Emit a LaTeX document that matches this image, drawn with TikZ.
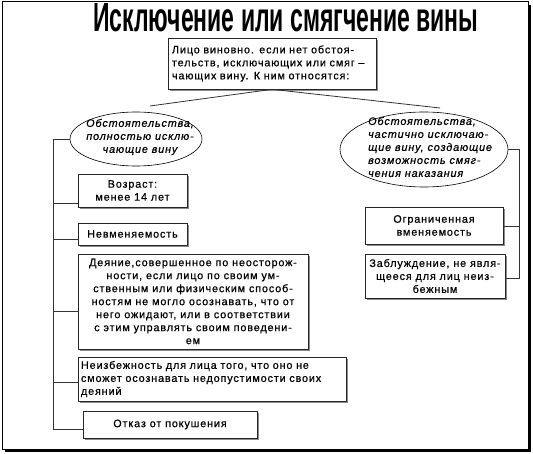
\documentclass[tikz,border=0pt]{standalone}
\usepackage{fontspec}
\setmainfont{Liberation Sans}[LetterSpace=8,FakeBold=0.6]
\newfontfamily\titlefont{Liberation Sans}
\usetikzlibrary{shapes.geometric,shadows}
\begin{document}
\begin{tikzpicture}[x=1pt,y=-1pt,
  conn/.style={draw=black!80, line width=0.8pt},
  bx/.style={draw=black!85, line width=0.7pt, fill=white, inner sep=0pt, align=center,
    font=\fontsize{10.8}{13}\selectfont,
    drop shadow={shadow xshift=2pt,shadow yshift=-2pt,fill=black!45,opacity=1}},
  ell/.style={draw=black, line width=0.6pt, fill=white, shape=ellipse, inner sep=0pt},
  ellt/.style={inner sep=0pt, font=\fontsize{10.8}{13}\itshape\selectfont}
]
\useasboundingbox (0,0) rectangle (533,454);
% frame
\draw[line width=1pt] (2,2) rectangle (528,449);
\fill (528,5) rectangle (531,452);
\fill (5,449) rectangle (531,452);
% title
\node[inner sep=0pt, anchor=south west] (title) at (93,32)
  {\resizebox{385pt}{28pt}{\titlefont\bfseries Исключение или смягчение вины}};
% top box
\node[bx, minimum width=208pt, minimum height=51pt, text width=200pt, align=left] (top) at (272,63.5)
  {Лицо виновно. если нет обстоя-\\тельств, исключающих или смяг –\\чающих вину. К ним относятся:};
% ellipses
\node[ell, minimum width=132pt, minimum height=54pt] (lell) at (136,139) {};
\node[ellt, align=center] (lellt) at (140,137) {Обстоятельства,\\полностью исклю-\\чающие вину};
\node[ell, minimum width=168pt, minimum height=75pt] (rell) at (424,149.5) {};
\node[ellt, align=left, anchor=west] (rellt) at (368,147) {Обстоятельства,\\частично исключаю-\\щие вину, создающие\\возможность смяг-\\чения наказания};
% left boxes
\node[bx, minimum width=109pt, minimum height=33pt] (vozr) at (132.5,190.5) {Возраст:\\менее 14 лет};
\node[bx, minimum width=109pt, minimum height=22pt] (nevm) at (132.5,234) {Невменяемость};
\node[bx, minimum width=230pt, minimum height=95pt] (deyan) at (193,301.5)
  {Деяние,совершенное по неосторож-\\ности, если лицо по своим ум-\\ственным или физическим способ-\\ностям не могло осознавать, что от\\него ожидают, или в соответствии\\с этим управлять своим поведени-\\ем};
\node[bx, minimum width=268pt, minimum height=44pt, text width=262pt, align=left] (neizb) at (212,379)
  {Неизбежность для лица того, что оно не\\сможет осознавать недопустимости своих\\деяний};
\node[bx, minimum width=174pt, minimum height=27pt] (otkaz) at (170,424.5) {Отказ от покушения};
% right boxes
\node[bx, minimum width=138pt, minimum height=37pt] (ogr) at (434,225.5) {Ограниченная\\вменяемость};
\node[bx, minimum width=140pt, minimum height=44pt] (zabl) at (435,276) {Заблуждение, не явля-\\щееся для лиц неиз-\\бежным};
% connectors from top
\coordinate (lend) at (150,106);
\coordinate (rend) at (440,108);
\draw[conn] (top.south) -- (lend);
\draw[conn] (top.south) -- (rend);
% left bus
\draw[conn] (lell.west) -| (53,429) -- (otkaz.west |- 53,429);
\draw[conn] (53,203) -- (vozr.west |- 53,203);
\draw[conn] (53,239) -- (nevm.west |- 53,239);
\draw[conn] (53,311) -- (deyan.west |- 53,311);
\draw[conn] (53,382) -- (neizb.west |- 53,382);
% right bus
\draw[conn] (rell.east) -| (519,278) -- (zabl.east |- 519,278);
\draw[conn] (519,226) -- (ogr.east |- 519,226);
\end{tikzpicture}
\end{document}
